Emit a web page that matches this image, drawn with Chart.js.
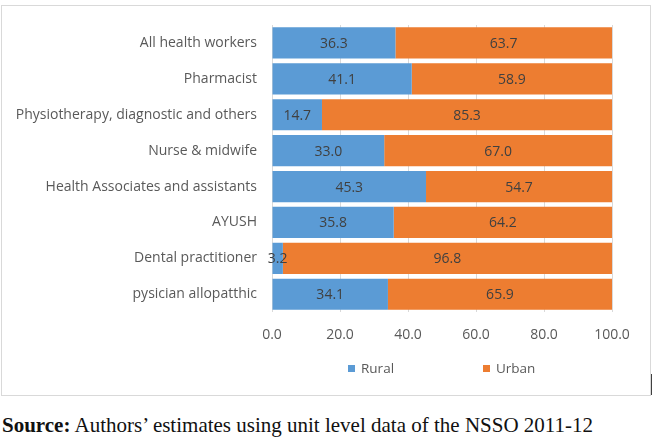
<!DOCTYPE html>
<html lang="en">
<head>
  <meta charset="UTF-8">
  <title>Rural / Urban share of health workers</title>
  <script src="https://cdn.jsdelivr.net/npm/chart.js"></script>
  <style>
    body {
      margin: 0;
      background: #fff;
      width: 661px;
      height: 440px;
      position: relative;
      overflow: hidden;
    }
    #moldura {
      position: absolute;
      left: 1px;
      top: 5px;
      width: 650px;
      height: 391px;
      border: 1px solid #d9d9d9;
      box-sizing: border-box;
    }
    #grafico {
      position: absolute;
      left: 0;
      top: 0;
    }
    #legenda {
      position: absolute;
      top: 359px;
      left: 0;
      font-family: "Open Sans", sans-serif;
      font-size: 13.5px;
      color: #595959;
    }
    #legenda span.item {
      position: absolute;
      white-space: nowrap;
    }
    #legenda span.caixa {
      display: inline-block;
      width: 7px;
      height: 7px;
      margin-right: 6px;
      vertical-align: 1px;
    }
    #marca {
      position: absolute;
      left: 651px;
      top: 374px;
      width: 1px;
      height: 21px;
      background: #404040;
    }
    #fonte {
      position: absolute;
      left: 2px;
      top: 413px;
      font-family: "Liberation Serif", serif;
      font-size: 21px;
      color: #111;
      white-space: nowrap;
    }
  </style>
</head>
<body>
  <div id="moldura"></div>
  <canvas id="grafico" width="661" height="400"></canvas>
  <div id="legenda"></div>
  <div id="marca"></div>
  <div id="fonte"><b>Source:</b> Authors’ estimates using unit level data of the NSSO 2011-12</div>
  <script>
    // dados
    const categorias = [
      "All health workers",
      "Pharmacist",
      "Physiotherapy, diagnostic and others",
      "Nurse & midwife",
      "Health Associates and assistants",
      "AYUSH",
      "Dental practitioner",
      "pysician allopatthic"
    ];
    const rural = [36.3, 41.1, 14.7, 33.0, 45.3, 35.8, 3.2, 34.1];
    const urbano = [63.7, 58.9, 85.3, 67.0, 54.7, 64.2, 96.8, 65.9];
    const series = ["Rural", "Urban"];
    const cores = ["#5b9bd5", "#ed7d31"];
    const ticksX = [0, 20, 40, 60, 80, 100];

    // rótulos de valor no centro de cada barra
    const rotulos = {
      id: "rotulos",
      afterDatasetsDraw(chart) {
        const ctx = chart.ctx;
        ctx.save();
        ctx.font = "14px 'Open Sans', sans-serif";
        ctx.fillStyle = "#404040";
        ctx.textAlign = "center";
        ctx.textBaseline = "middle";
        chart.data.datasets.forEach((ds, i) => {
          chart.getDatasetMeta(i).data.forEach((bar, j) => {
            const p = bar.getCenterPoint();
            ctx.fillText(ds.data[j].toFixed(1), p.x, p.y + 1);
          });
        });
        ctx.restore();
      }
    };

    const chart = new Chart(document.getElementById("grafico"), {
      type: "bar",
      data: {
        labels: categorias,
        datasets: [
          { label: series[0], data: rural, backgroundColor: cores[0] },
          { label: series[1], data: urbano, backgroundColor: cores[1] }
        ]
      },
      options: {
        indexAxis: "y",
        responsive: false,
        animation: false,
        layout: { padding: { top: 25, right: 49, bottom: 43, left: 0 } },
        datasets: { bar: { barPercentage: 0.87, categoryPercentage: 1 } },
        scales: {
          x: {
            stacked: true,
            min: 0,
            max: 100,
            afterBuildTicks: s => { s.ticks = ticksX.map(v => ({ value: v })); },
            grid: { color: "#d9d9d9", drawTicks: false },
            border: { display: false },
            ticks: {
              padding: 14,
              color: "#595959",
              font: { family: "Open Sans", size: 14 },
              callback: v => v.toFixed(1)
            }
          },
          y: {
            stacked: true,
            grid: { display: false, drawTicks: false },
            border: { display: false },
            afterFit: s => { s.width = 272; },
            ticks: {
              padding: 15,
              color: "#595959",
              font: { family: "Open Sans", size: 14 }
            }
          }
        },
        plugins: {
          legend: { display: false },
          tooltip: { enabled: false }
        }
      },
      plugins: [rotulos]
    });

    // legenda montada a partir das séries
    const legenda = document.getElementById("legenda");
    const posLegenda = [348, 483];
    series.forEach((nome, i) => {
      const item = document.createElement("span");
      item.className = "item";
      item.style.left = posLegenda[i] + "px";
      item.innerHTML = `<span class="caixa" style="background:${cores[i]}"></span>${nome}`;
      legenda.appendChild(item);
    });
  </script>
</body>
</html>
